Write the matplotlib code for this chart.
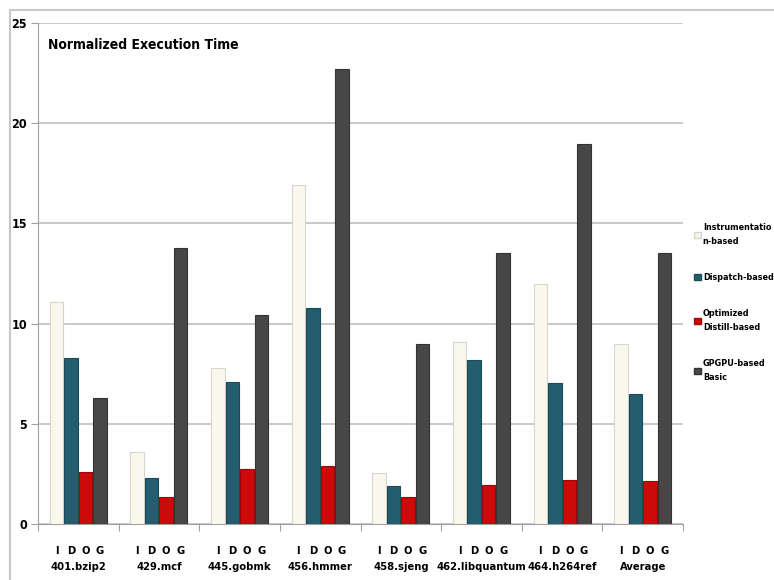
import matplotlib.pyplot as plt
import matplotlib.patches as mpatches
import numpy as np

benchmarks = ['401.bzip2', '429.mcf', '445.gobmk', '456.hmmer', '458.sjeng',
              '462.libquantum', '464.h264ref', 'Average']
instr = [11.1, 3.6, 7.8, 16.9, 2.55, 9.1, 12.0, 9.0]
dispatch = [8.3, 2.3, 7.1, 10.8, 1.9, 8.2, 7.05, 6.5]
distill = [2.58, 1.35, 2.72, 2.88, 1.37, 1.93, 2.21, 2.16]
gpgpu = [6.3, 13.75, 10.45, 22.7, 9.0, 13.5, 18.95, 13.5]
series_labels = ['Instrumentatio\nn-based', 'Dispatch-based',
                 'Optimized\nDistill-based', 'GPGPU-based\nBasic']
bar_letters = ['I', 'D', 'O', 'G']

colors = ['#FAF8EC', '#235D6E', '#CC0A0A', '#474747']
edges = ['#D8D6CC', '#1B4A58', '#A00808', '#333333']

plt.rcParams['font.family'] = ['DejaVu Sans']
plt.rcParams['font.stretch'] = 'condensed'

fig = plt.figure(figsize=(7.74, 5.8), dpi=100)
# chart area border (top and left visible)
fig.add_artist(plt.Line2D([10 / 774, 1], [1 - 10 / 580, 1 - 10 / 580],
                          color='#C8C8C8', lw=1.5))
fig.add_artist(plt.Line2D([10 / 774, 10 / 774], [0, 1 - 10 / 580],
                          color='#C8C8C8', lw=1.5))

ax = fig.add_axes([38 / 774, 56 / 580, 645 / 774, 501 / 580])

x = np.arange(len(benchmarks))
w = 0.18
offsets = [-1.5 * w, -0.5 * w, 0.5 * w, 1.5 * w]
for vals, off, c, ec in zip([instr, dispatch, distill, gpgpu], offsets, colors, edges):
    ax.bar(x + off, vals, w * 0.93, color=c, edgecolor=ec, linewidth=0.8, zorder=3)

ax.set_ylim(0, 25)
ax.set_xlim(-0.5, len(benchmarks) - 0.5)
ax.set_yticks([0, 5, 10, 15, 20, 25])
ax.yaxis.grid(True, color='#C0C0C0', lw=1.2, zorder=0)
for lbl in ax.get_yticklabels():
    lbl.set_fontweight('bold')
    lbl.set_fontsize(9)
ax.tick_params(axis='y', length=5, color='#A0A0A0', pad=3)
ax.set_xticks(np.arange(len(benchmarks) + 1) - 0.5)
ax.set_xticklabels([])
ax.tick_params(axis='x', length=5, color='#A0A0A0', direction='out')

for s in ['top', 'right']:
    ax.spines[s].set_visible(False)
ax.spines['left'].set_color('#A0A0A0')
ax.spines['bottom'].set_color('#A0A0A0')

trans = ax.get_xaxis_transform()
for i, name in enumerate(benchmarks):
    for off, letter in zip(offsets, bar_letters):
        ax.text(i + off, -0.053, letter, transform=trans, ha='center', va='center',
                fontsize=8, fontweight='bold')
    ax.text(i, -0.085, name, transform=trans, ha='center', va='center',
            fontsize=8, fontweight='bold')

ax.text(0.015, 0.957, 'Normalized Execution Time', transform=ax.transAxes,
        ha='left', va='center', fontsize=10, fontweight='bold')

handles = [mpatches.Patch(facecolor=c, edgecolor=ec, label=l)
           for c, ec, l in zip(colors, edges, series_labels)]
leg = fig.legend(handles=handles, loc='center left', bbox_to_anchor=(0.897, 0.478),
                 frameon=False, handlelength=0.7, handleheight=0.7,
                 handletextpad=0.25, labelspacing=3.0, borderpad=0, borderaxespad=0,
                 prop={'weight': 'bold', 'size': 6.5, 'stretch': 'condensed'})
for t in leg.get_texts():
    t.set_linespacing(1.7)

fig.savefig('out.png', dpi=100)
